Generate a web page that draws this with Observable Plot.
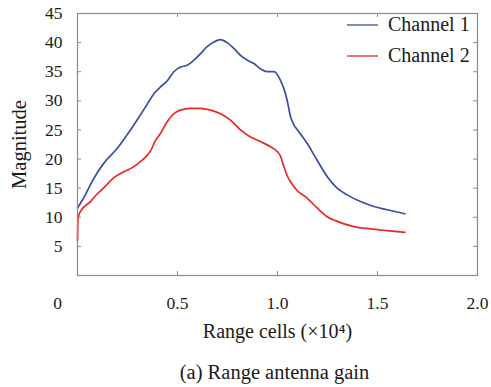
<!DOCTYPE html>
<html><head><meta charset="utf-8">
<script src="https://cdn.jsdelivr.net/npm/d3@7"></script>
<script src="https://cdn.jsdelivr.net/npm/@observablehq/plot@0.6"></script>
<style>body{margin:0;background:#fff}</style>
</head><body><div id="chart"></div>
<script>
// Data (x in units of 10^4 range cells)
const ch1X = [0, 0.015, 0.04, 0.065, 0.098, 0.132, 0.198, 0.265, 0.315, 0.35, 0.382, 0.415, 0.448, 0.482, 0.515, 0.548, 0.582, 0.615, 0.648, 0.682, 0.715, 0.748, 0.782, 0.815, 0.848, 0.882, 0.915, 0.948, 0.982, 1.015, 1.04, 1.05, 1.065, 1.08, 1.1, 1.148, 1.198, 1.248, 1.298, 1.348, 1.415, 1.482, 1.548, 1.637];
const ch1Y = [11.6, 12.4, 13.9, 15.6, 17.6, 19.3, 21.8, 25.0, 27.6, 29.5, 31.2, 32.4, 33.4, 35.0, 35.8, 36.1, 37.0, 38.1, 39.3, 40.1, 40.5, 40.0, 39.0, 37.8, 37.0, 36.4, 35.5, 35.0, 35.0, 33.5, 31.2, 29.8, 27.3, 26.0, 25.0, 22.7, 19.8, 17.0, 15.0, 13.85, 12.7, 11.85, 11.3, 10.6];
const ch2X = [0, 0.003, 0.015, 0.065, 0.098, 0.132, 0.182, 0.232, 0.282, 0.315, 0.345, 0.365, 0.39, 0.415, 0.448, 0.482, 0.515, 0.565, 0.615, 0.665, 0.715, 0.765, 0.815, 0.865, 0.915, 0.965, 0.998, 1.015, 1.032, 1.05, 1.065, 1.098, 1.148, 1.198, 1.248, 1.298, 1.382, 1.465, 1.548, 1.637];
const ch2Y = [6.0, 9.9, 11.0, 12.7, 14.0, 15.1, 16.8, 17.8, 18.7, 19.6, 20.5, 21.4, 23.2, 24.4, 26.4, 27.8, 28.4, 28.7, 28.7, 28.4, 27.8, 26.7, 25.0, 23.8, 23.0, 22.1, 21.3, 20.5, 18.7, 17.0, 16.1, 14.6, 13.3, 11.6, 10.1, 9.3, 8.4, 8.0, 7.7, 7.4];
const seriesNames = ["Channel 1", "Channel 2"];
const seriesColors = ["#3a4ea8", "#e8282b"];
const xDomain = [0, 2];
const yDomain = [0, 45];
const yTicks = [5, 10, 15, 20, 25, 30, 35, 40];
const yTickLabels = [5, 10, 15, 20, 25, 30, 35, 40, 45];
const xTicks = [0.5, 1.0, 1.5];
const xLabelTicks = [0.5, 1.0, 1.5, 2.0];
const xZeroLabel = [0];
const xLabel = "Range cells (×10⁴)";
const yLabel = "Magnitude";
const caption = "(a) Range antenna gain";

const data = [
  ...ch1X.map((x, i) => ({x, y: ch1Y[i], s: seriesNames[0]})),
  ...ch2X.map((x, i) => ({x, y: ch2Y[i], s: seriesNames[1]}))
];
const font = "Liberation Serif, serif";
const gray = "#8c8c8c";
const ink = "#1a1a1a";

// inward tick length: 4px of a 400px-wide / 262px-tall frame
const tx = (xDomain[1] - xDomain[0]) * 4 / 400;
const ty = (yDomain[1] - yDomain[0]) * 4 / 262;

const legend = (index, scales, values, dims) => {
  const g = d3.create("svg:g").attr("font-family", font).attr("font-size", 20)
    .attr("fill", ink).attr("text-anchor", "start");
  const right = dims.width - dims.marginRight;
  seriesNames.forEach((name, i) => {
    const y = dims.marginTop + 12 + i * 31;
    g.append("line").attr("x1", right - 130).attr("x2", right - 99)
      .attr("y1", y).attr("y2", y).attr("stroke", scales.color(name)).attr("stroke-width", 1.3);
    g.append("text").attr("x", right - 89).attr("y", y).attr("dy", "0.32em").text(name);
  });
  return g.node();
};

const tickText = {fontFamily: font, fontSize: 17.5, fill: ink};

const chart = Plot.plot({
  width: 491, height: 387,
  marginTop: 13, marginRight: 14, marginBottom: 112, marginLeft: 77,
  style: `font-family: ${font}; font-size: 17.5px; background: #fff; color: ${ink};`,
  x: {domain: xDomain},
  y: {domain: yDomain},
  color: {domain: seriesNames, range: seriesColors},
  marks: [
    Plot.ruleY(yTicks, {y: d => d, x1: xDomain[0], x2: xDomain[0] + tx, stroke: gray}),
    Plot.ruleY(yTicks, {y: d => d, x1: xDomain[1] - tx, x2: xDomain[1], stroke: gray}),
    Plot.ruleX(xTicks, {x: d => d, y1: yDomain[0], y2: yDomain[0] + ty, stroke: gray}),
    Plot.ruleX(xTicks, {x: d => d, y1: yDomain[1] - ty, y2: yDomain[1], stroke: gray}),
    Plot.line(data, {x: "x", y: "y", z: "s", stroke: "s", strokeWidth: 1.7, curve: "monotone-x"}),
    Plot.frame({stroke: gray, strokeWidth: 1.2}),
    Plot.axisY(yTickLabels, {anchor: "left", tickSize: 0, tickPadding: 15, label: null, ...tickText}),
    Plot.axisX(xLabelTicks, {anchor: "bottom", tickSize: 0, tickPadding: 21, tickFormat: d => d.toFixed(1), label: null, ...tickText}),
    Plot.text(xZeroLabel, {x: d => d, frameAnchor: "bottom", dy: 21, dx: -20, lineAnchor: "top", textAnchor: "middle", text: d => String(d), ...tickText}),
    Plot.text([xLabel], {frameAnchor: "bottom", dy: 56, lineAnchor: "middle", textAnchor: "middle", fontFamily: font, fontSize: 20, fill: ink}),
    Plot.text([caption], {frameAnchor: "bottom", dy: 97, dx: -3, lineAnchor: "middle", textAnchor: "middle", fontFamily: font, fontSize: 20.5, fill: ink}),
    Plot.text([yLabel], {frameAnchor: "left", dx: -58, rotate: -90, lineAnchor: "middle", textAnchor: "middle", fontFamily: font, fontSize: 20.5, fill: ink}),
    legend
  ]
});
document.getElementById("chart").appendChild(chart);
</script>
</body></html>
